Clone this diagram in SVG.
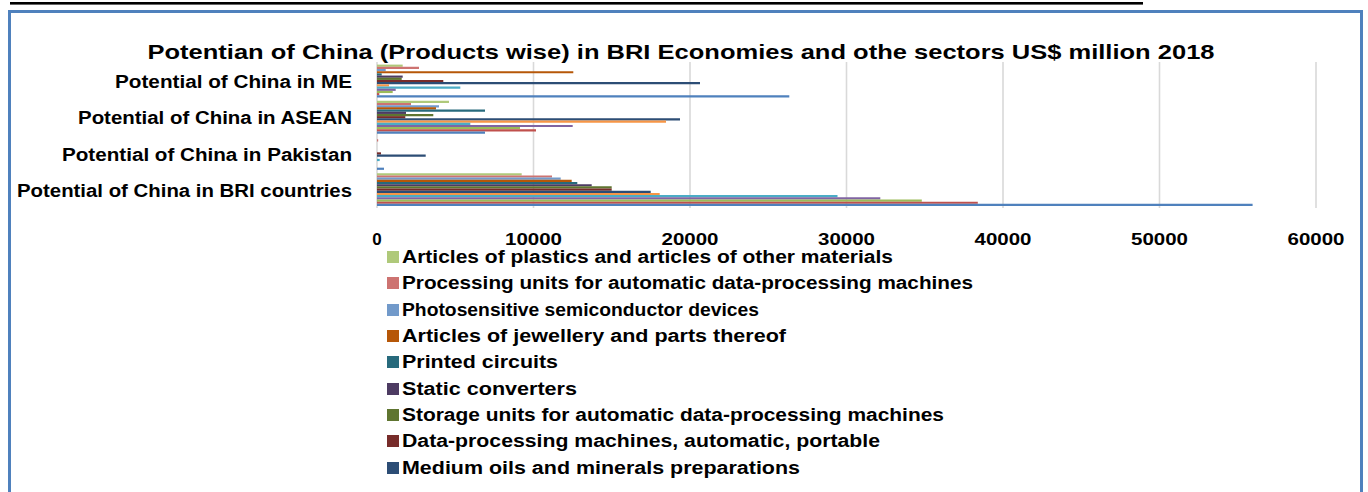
<svg xmlns="http://www.w3.org/2000/svg" width="1368" height="492" viewBox="0 0 1368 492">
<style>
text{font-family:"Liberation Sans",Arial,sans-serif;font-weight:bold;fill:#000}
.title{font-size:21px}
.cat{font-size:18px;text-anchor:end}
.tick{font-size:17px;text-anchor:middle}
.leg{font-size:18px}
.grid{stroke:#D9D9D9;stroke-width:1.6}
.bar line{stroke-width:2.2}
.s1{stroke:#4F81BD}.s2{stroke:#C0504D}.s3{stroke:#9BBB59}.s4{stroke:#8064A2}.s5{stroke:#4BACC6}
.s6{stroke:#F79646}.s7{stroke:#2C4D75}.s8{stroke:#772C2A}.s9{stroke:#5F7530}.s10{stroke:#4D3B62}
.s11{stroke:#276A7C}.s12{stroke:#B65708}.s13{stroke:#729ACA}.s14{stroke:#CD7371}.s15{stroke:#AFC97A}
</style>
<rect width="1368" height="492" fill="#FFFFFF"/>
<rect id="header-rule" x="10" y="2" width="1133" height="2.6" fill="#000"/>
<path id="frame" d="M9.5,496 V11.5 H1361.5 V496" fill="none" stroke="#4F81BD" stroke-width="3"/>
<g id="title"><text class="title" x="681" y="59" text-anchor="middle" textLength="1067" lengthAdjust="spacingAndGlyphs">Potentian of China (Products wise) in BRI Economies and othe sectors US$ million 2018</text></g>
<g id="gridlines">
<line class="grid" x1="377" y1="62" x2="377" y2="208"/>
<line class="grid" x1="533.5" y1="62" x2="533.5" y2="208"/>
<line class="grid" x1="690" y1="62" x2="690" y2="208"/>
<line class="grid" x1="846.5" y1="62" x2="846.5" y2="208"/>
<line class="grid" x1="1003" y1="62" x2="1003" y2="208"/>
<line class="grid" x1="1159.5" y1="62" x2="1159.5" y2="208"/>
<line class="grid" x1="1316" y1="62" x2="1316" y2="208"/>
</g>
<g id="category-labels">
<text class="cat" x="352" y="88" textLength="237" lengthAdjust="spacingAndGlyphs">Potential of China in ME</text>
<text class="cat" x="352" y="124" textLength="274" lengthAdjust="spacingAndGlyphs">Potential of China in ASEAN</text>
<text class="cat" x="352" y="161" textLength="290" lengthAdjust="spacingAndGlyphs">Potential of China in Pakistan</text>
<text class="cat" x="352" y="197" textLength="335" lengthAdjust="spacingAndGlyphs">Potential of China in BRI countries</text>
</g>
<g id="axis-labels">
<text class="tick" x="377" y="245">0</text>
<text class="tick" x="533.5" y="245" textLength="57" lengthAdjust="spacingAndGlyphs">10000</text>
<text class="tick" x="690" y="245" textLength="57" lengthAdjust="spacingAndGlyphs">20000</text>
<text class="tick" x="846.5" y="245" textLength="57" lengthAdjust="spacingAndGlyphs">30000</text>
<text class="tick" x="1003" y="245" textLength="57" lengthAdjust="spacingAndGlyphs">40000</text>
<text class="tick" x="1159.5" y="245" textLength="57" lengthAdjust="spacingAndGlyphs">50000</text>
<text class="tick" x="1316" y="245" textLength="57" lengthAdjust="spacingAndGlyphs">60000</text>
</g>
<g id="bars" class="bar">
<g id="bars-me">
<line class="s15" x1="377" y1="65.7" x2="402.7" y2="65.7"/>
<line class="s14" x1="377" y1="67.89" x2="419" y2="67.89"/>
<line class="s13" x1="377" y1="70.08" x2="385.7" y2="70.08"/>
<line class="s12" x1="377" y1="72.27" x2="573.3" y2="72.27"/>
<line class="s11" x1="377" y1="74.46" x2="381.7" y2="74.46"/>
<line class="s10" x1="377" y1="76.65" x2="402.7" y2="76.65"/>
<line class="s9" x1="377" y1="78.84" x2="401.7" y2="78.84"/>
<line class="s8" x1="377" y1="81.03" x2="443.3" y2="81.03"/>
<line class="s7" x1="377" y1="83.22" x2="700" y2="83.22"/>
<line class="s6" x1="377" y1="85.41" x2="389" y2="85.41"/>
<line class="s5" x1="377" y1="87.6" x2="460.3" y2="87.6"/>
<line class="s4" x1="377" y1="89.79" x2="395.7" y2="89.79"/>
<line class="s3" x1="377" y1="91.98" x2="392.7" y2="91.98"/>
<line class="s2" x1="377" y1="94.17" x2="379.3" y2="94.17"/>
<line class="s1" x1="377" y1="96.36" x2="789.3" y2="96.36"/>
</g>
<g id="bars-asean">
<line class="s15" x1="377" y1="101.9" x2="449" y2="101.9"/>
<line class="s14" x1="377" y1="104.09" x2="411" y2="104.09"/>
<line class="s13" x1="377" y1="106.28" x2="439" y2="106.28"/>
<line class="s12" x1="377" y1="108.47" x2="436" y2="108.47"/>
<line class="s11" x1="377" y1="110.66" x2="485" y2="110.66"/>
<line class="s10" x1="377" y1="112.85" x2="406" y2="112.85"/>
<line class="s9" x1="377" y1="115.04" x2="433.3" y2="115.04"/>
<line class="s8" x1="377" y1="117.23" x2="405.3" y2="117.23"/>
<line class="s7" x1="377" y1="119.42" x2="680" y2="119.42"/>
<line class="s6" x1="377" y1="121.61" x2="666" y2="121.61"/>
<line class="s5" x1="377" y1="123.8" x2="470.3" y2="123.8"/>
<line class="s4" x1="377" y1="125.99" x2="572.7" y2="125.99"/>
<line class="s3" x1="377" y1="128.18" x2="520" y2="128.18"/>
<line class="s2" x1="377" y1="130.37" x2="536" y2="130.37"/>
<line class="s1" x1="377" y1="132.56" x2="485" y2="132.56"/>
</g>
<g id="bars-pakistan">
<line class="s14" x1="377" y1="140.29" x2="378.2" y2="140.29"/>
<line class="s8" x1="377" y1="153.43" x2="381" y2="153.43"/>
<line class="s7" x1="377" y1="155.62" x2="425.7" y2="155.62"/>
<line class="s5" x1="377" y1="160" x2="379.7" y2="160"/>
<line class="s1" x1="377" y1="168.76" x2="384" y2="168.76"/>
</g>
<g id="bars-bri">
<line class="s15" x1="377" y1="174.3" x2="521.7" y2="174.3"/>
<line class="s14" x1="377" y1="176.49" x2="552" y2="176.49"/>
<line class="s13" x1="377" y1="178.68" x2="560.7" y2="178.68"/>
<line class="s12" x1="377" y1="180.87" x2="571.7" y2="180.87"/>
<line class="s11" x1="377" y1="183.06" x2="577.3" y2="183.06"/>
<line class="s10" x1="377" y1="185.25" x2="591.7" y2="185.25"/>
<line class="s9" x1="377" y1="187.44" x2="611.7" y2="187.44"/>
<line class="s8" x1="377" y1="189.63" x2="611.7" y2="189.63"/>
<line class="s7" x1="377" y1="191.82" x2="650.7" y2="191.82"/>
<line class="s6" x1="377" y1="194.01" x2="659.7" y2="194.01"/>
<line class="s5" x1="377" y1="196.2" x2="837.5" y2="196.2"/>
<line class="s4" x1="377" y1="198.39" x2="880.3" y2="198.39"/>
<line class="s3" x1="377" y1="200.58" x2="921.8" y2="200.58"/>
<line class="s2" x1="377" y1="202.77" x2="977.8" y2="202.77"/>
<line class="s1" x1="377" y1="204.96" x2="1252.6" y2="204.96"/>
</g>
</g>
<g id="legend">
<g id="leg-15"><rect x="387" y="251" width="12" height="12" fill="#AFC97A"/><text class="leg" x="402" y="263" textLength="491" lengthAdjust="spacingAndGlyphs">Articles of plastics and articles of other materials</text></g>
<g id="leg-14"><rect x="387" y="277" width="12" height="12" fill="#CD7371"/><text class="leg" x="402" y="289" textLength="571" lengthAdjust="spacingAndGlyphs">Processing units for automatic data-processing machines</text></g>
<g id="leg-13"><rect x="387" y="304" width="12" height="12" fill="#729ACA"/><text class="leg" x="402" y="316" textLength="357" lengthAdjust="spacingAndGlyphs">Photosensitive semiconductor devices</text></g>
<g id="leg-12"><rect x="387" y="330" width="12" height="12" fill="#B65708"/><text class="leg" x="402" y="342" textLength="384" lengthAdjust="spacingAndGlyphs">Articles of jewellery and parts thereof</text></g>
<g id="leg-11"><rect x="387" y="356" width="12" height="12" fill="#276A7C"/><text class="leg" x="402" y="368" textLength="156" lengthAdjust="spacingAndGlyphs">Printed circuits</text></g>
<g id="leg-10"><rect x="387" y="383" width="12" height="12" fill="#4D3B62"/><text class="leg" x="402" y="395" textLength="175" lengthAdjust="spacingAndGlyphs">Static converters</text></g>
<g id="leg-9"><rect x="387" y="409" width="12" height="12" fill="#5F7530"/><text class="leg" x="402" y="421" textLength="542" lengthAdjust="spacingAndGlyphs">Storage units for automatic data-processing machines</text></g>
<g id="leg-8"><rect x="387" y="435" width="12" height="12" fill="#772C2A"/><text class="leg" x="402" y="447" textLength="478" lengthAdjust="spacingAndGlyphs">Data-processing machines, automatic, portable</text></g>
<g id="leg-7"><rect x="387" y="462" width="12" height="12" fill="#2C4D75"/><text class="leg" x="402" y="474" textLength="398" lengthAdjust="spacingAndGlyphs">Medium oils and minerals preparations</text></g>
</g>
</svg>
